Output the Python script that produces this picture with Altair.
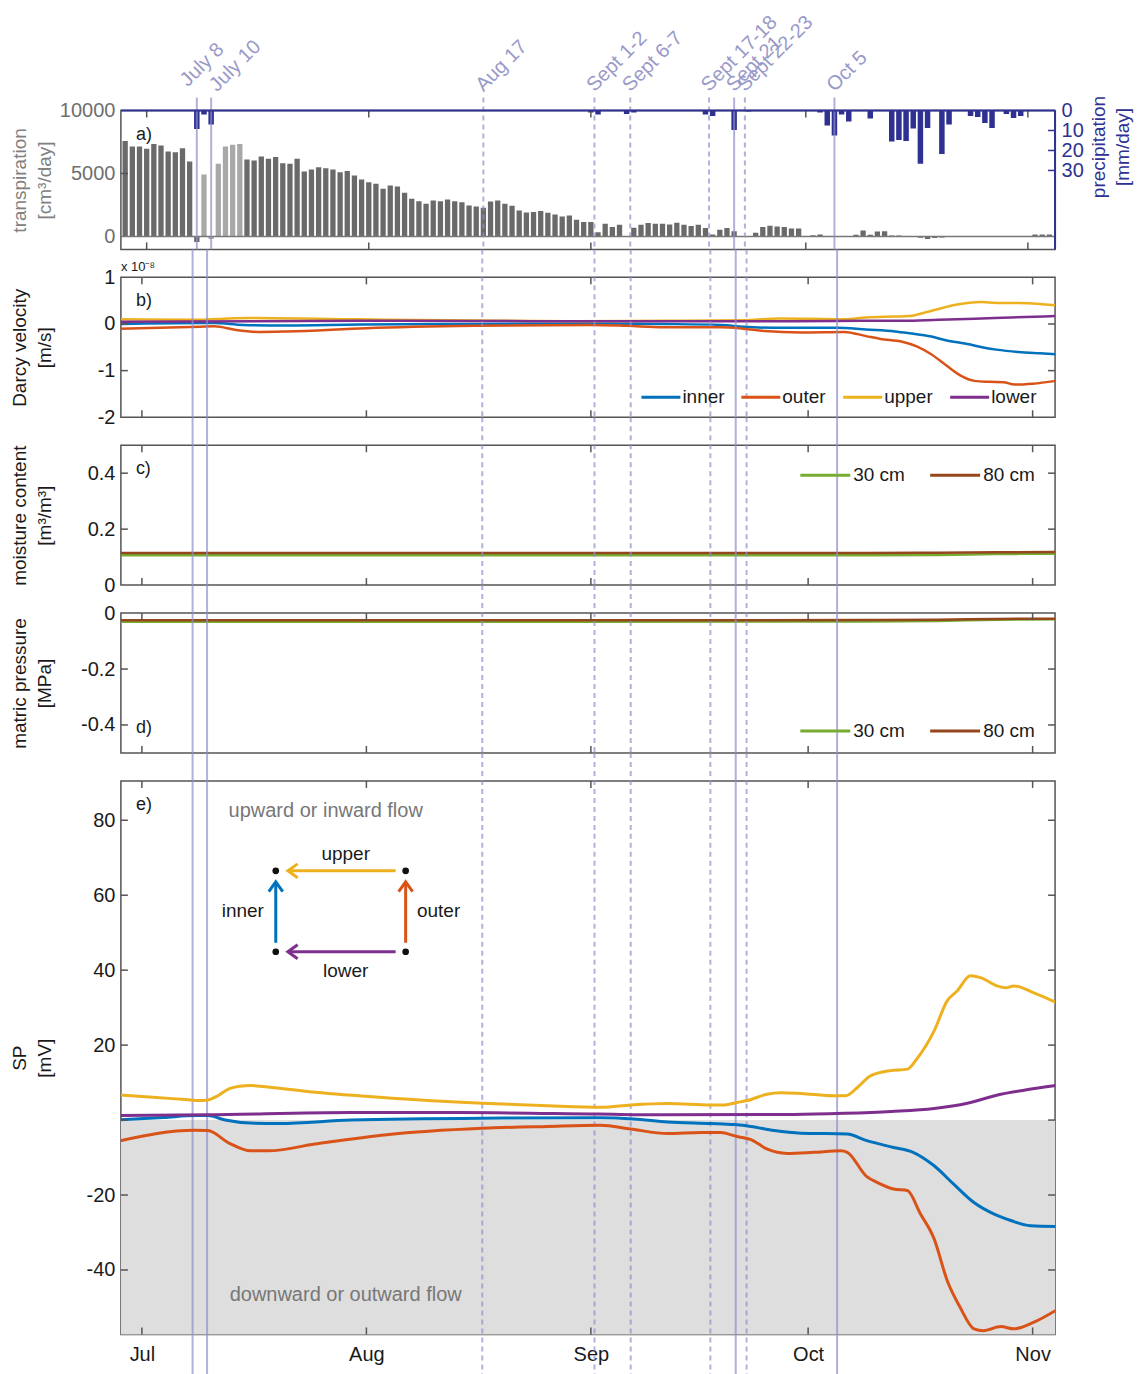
import altair as alt
import pandas as pd
import numpy as np

YEAR = 2013
BASE = pd.Timestamp(f"{YEAR}-07-01")

# ---------------- data ----------------
trans_first_day = f"{YEAR}-06-28"
transpiration = [7570, 7140, 7140, 6960, 7350, 7220, 6750, 6690, 7010, 5950,
                 -450, 4920, -200, 5770, 7140, 7280, 7350,
                 6110, 6030, 6350, 6160, 6300, 5820, 5770, 6160, 5160, 5320,
                 5500, 5420, 5320, 5100, 5190, 4840, 4520,
                 4310, 4180, 3780, 4050, 3970, 3470, 2990, 2800, 2590, 2860,
                 2800, 2940, 2800, 2720, 2460, 2380, 2280, 2780, 2860, 2590,
                 2430, 2060, 1900, 1930, 2010, 1880, 1750, 1590, 1670, 1320, 1140,
                 1140, 340, 1010, 740, 930, 0, 690, 930, 1060, 1010,
                 1010, 950, 1080, 930, 820, 930, 660, 160, 530, 660,
                 420, 0, 0, 290, 740, 850, 790, 740, 630, 630,
                 0, 100, 160, 0, 0, 0, 0, 130, 480, 130,
                 400, 420, 80, 80, 0, 0, -100, -200, -120, -80,
                 0, 0, 0, 0, 0, 0, 0, 0, 0, 0, 0,
                 0, 160, 160, 160]
trans_gapfilled_days = [f"{YEAR}-07-{d:02d}" for d in range(9, 15)]

precip_days = ["07-08", "07-09", "07-10", "09-01", "09-02", "09-06", "09-07", "09-17", "09-18",
               "09-21", "09-23", "10-03", "10-04", "10-05", "10-06", "10-07", "10-10",
               "10-13", "10-14", "10-15", "10-16", "10-17", "10-18", "10-20", "10-21",
               "10-24", "10-25", "10-26", "10-27", "10-29", "10-30", "10-31"]
precip_mm = [9.2, 2.0, 7.0, 1.0, 2.0, 1.7, 1.0, 2.0, 2.7, 9.7, 0.5, 1.0, 7.5, 12.5, 2.0, 5.5, 4.0,
             15.5, 14.7, 15.3, 9.0, 26.7, 8.7, 21.7, 7.0, 2.8, 3.3, 6.3, 8.7, 1.7, 3.7, 2.7]

event_labels = ["July 8", "July 10", "Aug 17", "Sept 1-2", "Sept 6-7", "Sept 17-18",
                "Sept 21", "Sept 22-23", "Oct 5"]
event_times = ["07-08T00:00", "07-10T00:00", "08-17T00:00", "09-01T12:00", "09-06T12:00",
               "09-17T12:00", "09-21T00:00", "09-22T12:00", "10-05T00:00"]
event_kinds = ["solid", "solid", "dashed", "dashed", "dashed", "dashed", "solid", "dashed", "solid"]

month_starts = [7, 8, 9, 10, 11]

# Darcy velocity (x 1e-8 m/s); t = days since 1 July
darcy_inner_t = [-3, 8, 10, 14, 20, 30, 45, 62, 72, 80, 83, 87, 96, 100, 104, 106, 109, 111, 114, 116, 118, 121, 124, 126.2]
darcy_inner = [0.0, 0.02, 0.02, -0.02, -0.03, -0.01, 0.0, 0.01, 0.0, -0.02, -0.06, -0.08, -0.08, -0.12, -0.16,
               -0.2, -0.27, -0.35, -0.43, -0.5, -0.55, -0.6, -0.63, -0.65]
darcy_outer_t = [-3, 8, 10, 13, 16, 20, 31, 46, 62, 67, 72, 80, 83, 86, 91, 97, 100, 102, 105, 107, 109, 111,
                 113, 115, 117, 119, 120.5, 123, 126.2]
darcy_outer = [-0.1, -0.06, -0.05, -0.13, -0.17, -0.16, -0.09, -0.04, -0.02, -0.04, -0.07, -0.07, -0.1, -0.15,
               -0.18, -0.17, -0.26, -0.32, -0.38, -0.48, -0.65, -0.88, -1.1, -1.22, -1.24, -1.25, -1.3, -1.28, -1.22]
darcy_upper_t = [-3, 8, 12, 15, 30, 60, 72, 83, 88, 97, 100, 104, 106, 108, 110, 112, 114, 116, 118, 121, 123, 126.2]
darcy_upper = [0.1, 0.09, 0.12, 0.13, 0.1, 0.06, 0.07, 0.08, 0.12, 0.1, 0.14, 0.16, 0.17, 0.24, 0.32, 0.4, 0.45,
               0.47, 0.45, 0.45, 0.44, 0.4]
darcy_lower_t = [-3, 30, 60, 90, 100, 105, 110, 115, 120, 126.2]
darcy_lower = [0.05, 0.07, 0.06, 0.06, 0.07, 0.07, 0.09, 0.11, 0.14, 0.17]

# moisture content and matric pressure
soil_t = [-3, 60, 100, 110, 118, 126.2]
moist_30 = [0.107, 0.107, 0.107, 0.108, 0.111, 0.112]
moist_80 = [0.115, 0.115, 0.115, 0.116, 0.117, 0.118]
press_30 = [-0.031, -0.031, -0.030, -0.028, -0.024, -0.022]
press_80 = [-0.026, -0.026, -0.025, -0.024, -0.021, -0.020]

# self-potential (mV)
sp_inner_t = [-3, 3, 7.4, 9.1, 11.5, 15, 19, 28.8, 47, 63.3, 67.9, 72.6, 78.6, 81.8, 84.1, 87.3, 91, 97.4,
              100.1, 103.8, 106.5, 109.4, 112.1, 114.9, 117.7, 120, 122.7, 126.2]
sp_inner = [0.1, 0.7, 1.2, 1.2, 0.0, -0.8, -0.9, 0.0, 0.5, 0.6, 0.3, -0.5, -0.9, -1.2, -1.7, -2.8, -3.5, -3.7,
            -5.5, -7.3, -8.6, -12.2, -17.1, -22.0, -25.1, -26.8, -28.2, -28.4]
sp_outer_t = [-3, 7.2, 9.1, 12.1, 15, 17.5, 23.9, 33.8, 47, 56, 63.3, 67.5, 72.6, 77.2, 79.9, 82.2, 84.1, 86.3,
              89.1, 92.8, 96.5, 97.4, 100.1, 101.5, 103.8, 105.7, 107.5, 109.4, 111.2, 113, 114.9, 116.2, 118.6,
              120.4, 123.1, 126.2]
sp_outer = [-5.5, -2.7, -2.8, -6.2, -8.2, -8.2, -6.4, -3.9, -2.2, -1.7, -1.4, -2.4, -3.6, -3.3, -3.3, -4.4, -5.2,
            -7.7, -8.9, -8.6, -8.2, -8.6, -15.1, -16.6, -18.4, -18.8, -25.0, -31.7, -42.8, -50.0, -55.7, -56.2,
            -55.1, -55.7, -54.0, -50.8]
sp_upper_t = [-3, 2, 6, 8, 9, 10.5, 12, 13.5, 15, 18, 24, 34, 47, 56, 63.5, 67.5, 72.6, 78.6, 80.2, 82.2, 83.6,
              86.3, 88.2, 91, 95.6, 97.2, 98.8, 100.6, 103.4, 105.7, 107, 109.4, 111.2, 112.6, 114.4, 115.8, 118.1,
              119.3, 120.4, 123.1, 126.2]
sp_upper = [6.7, 6.0, 5.5, 5.2, 5.3, 6.5, 8.3, 9.0, 9.2, 8.7, 7.4, 5.9, 4.5, 3.8, 3.4, 4.0, 4.4, 4.0, 4.0, 4.7,
            5.2, 6.9, 7.3, 7.1, 6.5, 6.5, 8.7, 11.8, 13.2, 13.6, 16.3, 23.8, 31.8, 34.5, 38.5, 38.0, 35.8, 35.3,
            35.8, 34.0, 31.4]
sp_lower_t = [-3, 9, 29, 44, 63, 72, 90, 97, 103.5, 109.4, 114, 118.6, 122, 126.2]
sp_lower = [1.2, 1.4, 2.0, 2.0, 1.6, 1.4, 1.5, 1.8, 2.3, 3.1, 4.5, 6.9, 8.0, 9.2]

probes = ["inner", "outer", "upper", "lower"]
probe_colors = ["#0072BD", "#D95319", "#EDB120", "#7E2F8E"]
depths = ["30 cm", "80 cm"]
depth_colors = ["#77AC30", "#94461d"]

# ---------------- styling ----------------
FONT = "Liberation Sans"
W = 935
HA, HB, HC, HD, HE = 139, 140, 140, 140, 554
GAP = 28
AX = "#555555"
TXT = "#1a1a1a"
NAVY = "#2e3192"
EV = "#8f8fcc"
EVT = "#9a9ac8"
DARK = "#6a6a6a"
LIGHT = "#a8a8a8"
GRAYL = "#6e6e6e"

# ---------------- tables ----------------
def to_dates(ts):
    return [BASE + pd.Timedelta(days=float(t)) for t in ts]

trans_df = pd.DataFrame({"date": pd.date_range(trans_first_day, periods=len(transpiration), freq="D"),
                         "trans": transpiration})
trans_df["group"] = np.where(trans_df["date"].isin(pd.to_datetime(trans_gapfilled_days)), "gap", "measured")
precip_df = pd.DataFrame({"date": pd.to_datetime([f"{YEAR}-{d}" for d in precip_days]), "precip": precip_mm})
ev_df = pd.DataFrame({"date": pd.to_datetime([f"{YEAR}-{d}" for d in event_times]),
                      "label": event_labels, "kind": event_kinds})
mt_df = pd.DataFrame({"date": [pd.Timestamp(YEAR, m, 1) for m in month_starts]})


def series_df(named, key):
    rows = []
    for name, (ts, vs) in named.items():
        for d, v in zip(to_dates(ts), vs):
            rows.append({"date": d, key: name, "value": v})
    return pd.DataFrame(rows)


darcy_df = series_df({"inner": (darcy_inner_t, darcy_inner), "outer": (darcy_outer_t, darcy_outer),
                      "upper": (darcy_upper_t, darcy_upper), "lower": (darcy_lower_t, darcy_lower)}, "probe")
moist_df = series_df({"30 cm": (soil_t, moist_30), "80 cm": (soil_t, moist_80)}, "depth")
press_df = series_df({"30 cm": (soil_t, press_30), "80 cm": (soil_t, press_80)}, "depth")
sp_df = series_df({"inner": (sp_inner_t, sp_inner), "outer": (sp_outer_t, sp_outer),
                   "upper": (sp_upper_t, sp_upper), "lower": (sp_lower_t, sp_lower)}, "probe")

X_DOMAIN = [alt.DateTime(year=YEAR, month=6, date=28, hours=2, minutes=24),
            alt.DateTime(year=YEAR, month=11, date=4, hours=2, minutes=24)]
MONTH_DT = [alt.DateTime(year=YEAR, month=m, date=1) for m in month_starts]
PROBE_SCALE = alt.Scale(domain=probes, range=probe_colors)
DEPTH_SCALE = alt.Scale(domain=depths, range=depth_colors)
pcolor = dict(zip(probes, probe_colors))
dcolor = dict(zip(depths, depth_colors))


def xenc(show=False):
    if show:
        axis = alt.Axis(values=MONTH_DT, format="%b", title=None, ticks=False, domain=False, grid=False,
                        labelFontSize=20, labelPadding=10, labelColor=TXT, labelFlush=False, labelFont=FONT)
    else:
        axis = None
    return alt.X("date:T", scale=alt.Scale(domain=X_DOMAIN), axis=axis)


def yaxis(values, title, H, color=TXT, title_color=TXT, orient="left", title_x=-110, title_y=None):
    return alt.Axis(values=values, title=title, orient=orient, ticks=False, domain=False, grid=False,
                    labelFontSize=20, labelColor=color, labelPadding=6, labelExpr="'' + datum.value",
                    labelFont=FONT, titleFont=FONT, titleFontSize=19, titleFontWeight="normal",
                    titleColor=title_color, titleAngle=270, titleAlign="center", titleBaseline="top",
                    titleX=title_x, titleY=(H / 2 if title_y is None else title_y), titleLineHeight=25,
                    labelFlush=False, labelOverlap=False)


def y_ticks(vals, scale, axis, side="both", color=AX):
    b = alt.Chart(pd.DataFrame({"v": vals})).mark_rule(color=color, strokeWidth=1.5)
    out = []
    if side in ("left", "both"):
        out.append(b.encode(y=alt.Y("v:Q", scale=scale, axis=axis), x=alt.value(0), x2=alt.value(7)))
    if side in ("right", "both"):
        out.append(b.encode(y=alt.Y("v:Q", scale=scale, axis=axis), x=alt.value(W - 7), x2=alt.value(W)))
    return out


def month_ticks(H, show=False):
    b = alt.Chart(mt_df).mark_rule(color=AX, strokeWidth=1.5)
    return [b.encode(x=xenc(show), y=alt.value(0), y2=alt.value(7)),
            b.encode(x=xenc(show), y=alt.value(H - 7), y2=alt.value(H))]


def event_layers(top, bottom, show=False):
    base = alt.Chart(ev_df)
    solid = base.transform_filter("datum.kind == 'solid'").mark_rule(
        color=EV, strokeWidth=2, opacity=0.7).encode(x=xenc(show), y=alt.value(top), y2=alt.value(bottom))
    dashed = base.transform_filter("datum.kind == 'dashed'").mark_rule(
        color=EV, strokeWidth=2, opacity=0.7, strokeDash=[5, 4]).encode(
        x=xenc(show), y=alt.value(top), y2=alt.value(bottom))
    return [solid, dashed]


def txt(s, x, y, size=19, color=TXT, align="center", baseline="middle"):
    return alt.Chart().mark_text(text=s, fontSize=size, color=color, align=align, baseline=baseline,
                                 font=FONT).encode(x=alt.value(x), y=alt.value(y))


def hrule(x1, x2, y, color, w=3):
    return alt.Chart().mark_rule(color=color, strokeWidth=w).encode(x=alt.value(x1), x2=alt.value(x2), y=alt.value(y))


def vrule(x, y1, y2, color, w=3):
    return alt.Chart().mark_rule(color=color, strokeWidth=w).encode(x=alt.value(x), y=alt.value(y1), y2=alt.value(y2))


def legend_layers(names, cmap, xs, y, length, gap=3):
    out = []
    for n, x0 in zip(names, xs):
        out.append(hrule(x0, x0 + length, y, cmap[n], 3))
        out.append(txt(n, x0 + length + gap, y, 19, TXT, "left"))
    return out


# ---------------- panel a ----------------
ya = alt.Scale(domain=[-1030, 10000], nice=False, zero=False)
yp = alt.Scale(domain=[0, 69.5], reverse=True, nice=False, zero=False)
axis_a = yaxis([0, 5000, 10000], ["transpiration", "[cm³/day]"], HA, color=GRAYL, title_color="#808080")
axis_p = yaxis([0, 10, 20, 30], ["precipitation", "[mm/day]"], HA, color=NAVY, title_color=NAVY,
               orient="right", title_x=34, title_y=36)

trans_bars = alt.Chart(trans_df).mark_bar(size=5.3, clip=True).encode(
    x=xenc(),
    y=alt.Y("trans:Q", scale=ya, axis=axis_a),
    color=alt.Color("group:N", scale=alt.Scale(domain=["measured", "gap"], range=[DARK, LIGHT]), legend=None))
zero_rule = alt.Chart().mark_rule(color="#777777", strokeWidth=1.5).encode(
    y=alt.YDatum(0, scale=ya, axis=axis_a), x=alt.value(0), x2=alt.value(W))
left_group = alt.layer(trans_bars, zero_rule, *y_ticks([5000], ya, axis_a, "left"))

precip_bars = alt.Chart(precip_df).mark_bar(size=5.5, color=NAVY, clip=True).encode(
    x=xenc(), y=alt.Y("precip:Q", scale=yp, axis=axis_p))
right_group = alt.layer(precip_bars, *y_ticks([10, 20, 30], yp, axis_p, "right", color=NAVY))

ev_base = alt.Chart(ev_df)
lab_kw = dict(angle=315, align="left", baseline="alphabetic", fontSize=20, color=EVT, font=FONT)
ev_labels = [
    ev_base.transform_filter("datum.label == 'July 8'").mark_text(dx=-2.8, dy=-9.9, **lab_kw).encode(
        x=xenc(), y=alt.value(-18), text="label:N"),
    ev_base.transform_filter("datum.label == 'July 10'").mark_text(dx=4.2, dy=4.2, **lab_kw).encode(
        x=xenc(), y=alt.value(-18), text="label:N"),
    ev_base.transform_filter("datum.label != 'July 8' && datum.label != 'July 10'").mark_text(**lab_kw).encode(
        x=xenc(), y=alt.value(-18), text="label:N"),
]
navy_top = hrule(0, W, 0, NAVY, 2)
navy_right = vrule(W, 0, HA, NAVY, 2)

pa = alt.layer(left_group, right_group, *month_ticks(HA), *event_layers(-13, HA), *ev_labels,
               navy_top, navy_right, txt("a)", 15, 25, 18, TXT, "left")).resolve_scale(
    y="independent").properties(width=W, height=HA)

# ---------------- panel b ----------------
yb = alt.Scale(domain=[-2, 1], nice=False, zero=False)
axis_b = yaxis([-2, -1, 0, 1], ["Darcy velocity", "[m/s]"], HB)
b_lines = alt.Chart(darcy_df).mark_line(strokeWidth=2.5, interpolate="monotone", clip=True).encode(
    x=xenc(), y=alt.Y("value:Q", scale=yb, axis=axis_b),
    color=alt.Color("probe:N", scale=PROBE_SCALE, legend=None))
pb = alt.layer(b_lines, *y_ticks([-1, 0], yb, axis_b), *month_ticks(HB), *event_layers(-28, HB),
               txt("b)", 15, 24, 18, TXT, "left"), txt("x 10⁻⁸", 0, -10, 13, TXT, "left"),
               *legend_layers(probes, pcolor, [521, 621, 723, 830], 120, 39, 2)).properties(width=W, height=HB)

# ---------------- panel c ----------------
yc = alt.Scale(domain=[0, 0.5], nice=False, zero=False)
axis_c = yaxis([0, 0.2, 0.4], ["moisture content", "[m³/m³]"], HC)
c_lines = alt.Chart(moist_df).mark_line(strokeWidth=2.5, interpolate="monotone", clip=True).encode(
    x=xenc(), y=alt.Y("value:Q", scale=yc, axis=axis_c),
    color=alt.Color("depth:N", scale=DEPTH_SCALE, legend=None))
pc = alt.layer(c_lines, *y_ticks([0.2, 0.4], yc, axis_c), *month_ticks(HC), *event_layers(-28, HC),
               txt("c)", 15, 24, 18, TXT, "left"),
               *legend_layers(depths, dcolor, [680, 810], 30, 50, 3)).properties(width=W, height=HC)

# ---------------- panel d ----------------
yd = alt.Scale(domain=[-0.5, 0], nice=False, zero=False)
axis_d = yaxis([-0.4, -0.2, 0], ["matric pressure", "[MPa]"], HD)
d_lines = alt.Chart(press_df).mark_line(strokeWidth=2.5, interpolate="monotone", clip=True).encode(
    x=xenc(), y=alt.Y("value:Q", scale=yd, axis=axis_d),
    color=alt.Color("depth:N", scale=DEPTH_SCALE, legend=None))
pd_ = alt.layer(d_lines, *y_ticks([-0.4, -0.2], yd, axis_d), *month_ticks(HD), *event_layers(-28, HD),
                txt("d)", 15, 115, 18, TXT, "left"),
                *legend_layers(depths, dcolor, [680, 810], 118, 50, 3)).properties(width=W, height=HD)

# ---------------- panel e ----------------
ye = alt.Scale(domain=[-57.2, 90.5], nice=False, zero=False)
axis_e = yaxis([-40, -20, 20, 40, 60, 80], ["SP", "[mV]"], HE)
gray_area = alt.Chart().mark_rect(color="#dedede").encode(
    x=alt.value(0), x2=alt.value(W), y=alt.YDatum(0, scale=ye, axis=axis_e), y2=alt.Y2Datum(-57.2))
e_lines = alt.Chart(sp_df).mark_line(strokeWidth=3, interpolate="monotone", clip=True).encode(
    x=xenc(True), y=alt.Y("value:Q", scale=ye, axis=axis_e),
    color=alt.Color("probe:N", scale=PROBE_SCALE, legend=None))

LEFT_CHEV = "M0.7,-1L-0.7,0L0.7,1"
UP_CHEV = "M-1,0.7L0,-0.7L1,0.7"


def chevron(x, y, color, path):
    return alt.Chart().mark_point(shape=path, size=196, filled=False, strokeWidth=3, color=color,
                                  opacity=1).encode(x=alt.value(x), y=alt.value(y))


def dot(x, y):
    return alt.Chart().mark_circle(size=45, color="#111111", opacity=1).encode(x=alt.value(x), y=alt.value(y))


diagram = [
    hrule(169, 275, 90, pcolor["upper"]), chevron(172, 90, pcolor["upper"], LEFT_CHEV),
    hrule(169, 275, 171, pcolor["lower"]), chevron(172, 171, pcolor["lower"], LEFT_CHEV),
    vrule(155, 103, 162, pcolor["inner"]), chevron(155, 106, pcolor["inner"], UP_CHEV),
    vrule(285, 103, 162, pcolor["outer"]), chevron(285, 106, pcolor["outer"], UP_CHEV),
    dot(155, 90), dot(285, 90), dot(155, 171), dot(285, 171),
    txt("upper", 225, 73), txt("lower", 225, 190), txt("inner", 122, 130), txt("outer", 318, 130),
]

pe = alt.layer(gray_area, *event_layers(-28, HE + 40, True), e_lines,
               *y_ticks([-40, -20, 0, 20, 40, 60, 80], ye, axis_e), *month_ticks(HE, True),
               txt("e)", 15, 24, 18, TXT, "left"),
               txt("upward or inward flow", 205, 30, 20, "#777777"),
               txt("downward or outward flow", 225, 515, 20, "#777777"),
               *diagram).properties(width=W, height=HE)

chart = alt.vconcat(pa, pb, pc, pd_, pe, spacing=GAP, bounds="flush").resolve_scale(
    x="independent", y="independent", color="independent").properties(
    padding={"left": 2, "top": 2, "right": 0, "bottom": 0}).configure_view(
    stroke=AX, strokeWidth=1.5).configure_text(font=FONT).configure_axis(labelFont=FONT, titleFont=FONT)

chart.save("out.html", embed_options={"renderer": "svg", "actions": False})
